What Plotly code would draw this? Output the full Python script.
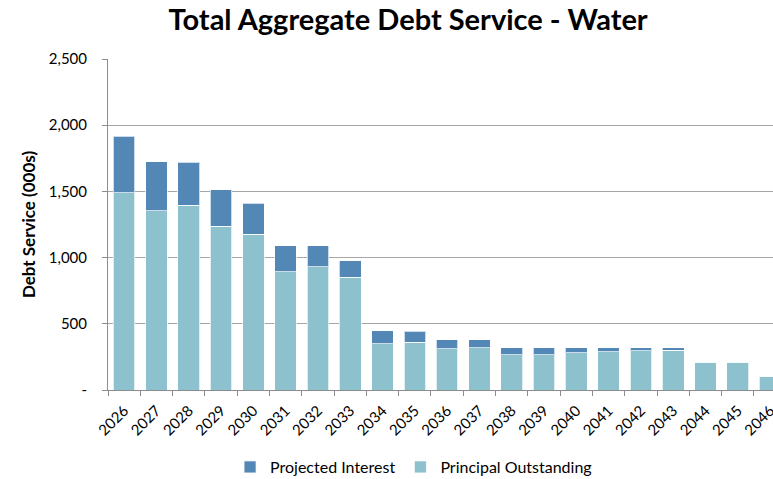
import plotly.graph_objects as go

years = [str(y) for y in range(2026, 2047)]
principal = [1490, 1355, 1395, 1235, 1178, 895, 930, 852, 350, 360, 312, 318, 268, 268, 280, 290, 298, 300, 208, 210, 104]
total = [1915, 1725, 1720, 1512, 1412, 1088, 1088, 978, 446, 444, 381, 381, 321, 318, 321, 321, 321, 318, 215, 215, 107]
interest = [t - p for t, p in zip(total, principal)]

y_tickvals = [0, 500, 1000, 1500, 2000, 2500]
y_ticktext = ["-", "500", "1,000", "1,500", "2,000", "2,500"]

FONT = "Lato"

fig = go.Figure()
fig.add_trace(go.Bar(x=years, y=principal, name="Principal Outstanding",
                     marker=dict(color="#8CC1CD", line=dict(color="rgba(255,255,255,0.7)", width=1))))
fig.add_trace(go.Bar(x=years, y=interest, name="Projected Interest",
                     marker=dict(color="#5388B6", line=dict(color="rgba(255,255,255,0.7)", width=1))))

fig.update_layout(
    width=773, height=479,
    barmode="stack", bargap=0.33,
    paper_bgcolor="white", plot_bgcolor="white",
    margin=dict(l=108, r=0, t=59, b=89, autoexpand=False),
    font=dict(family=FONT, color="black", size=15),
    title=dict(text="<b>Total Aggregate Debt Service - Water</b>", x=0.528, xanchor="center",
               y=0.979, yanchor="top", font=dict(size=29, family=FONT)),
    legend=dict(orientation="h", xref="container", yref="container",
                x=0.535, xanchor="center", y=0.025, yanchor="middle",
                traceorder="reversed", font=dict(size=16)),
    showlegend=True,
)
fig.update_xaxes(range=[-0.5, 20.09], showline=True, linecolor="#8c8c8c", linewidth=1,
                 ticks="outside", tickson="boundaries", ticklen=5, tickcolor="#8c8c8c",
                 tickangle=-45, tickfont=dict(size=15), showgrid=False, automargin=False,
                 ticklabelstandoff=5)
fig.update_yaxes(range=[0, 2500], tickvals=y_tickvals, ticktext=y_ticktext,
                 showline=True, linecolor="#8c8c8c", linewidth=1,
                 ticks="outside", ticklen=5, tickcolor="#8c8c8c",
                 showgrid=True, gridcolor="#a6a6a6", gridwidth=1, zeroline=False,
                 tickfont=dict(size=15), automargin=False, ticklabelstandoff=12,
                 title=dict(text="<b>Debt Service (000s)</b>", font=dict(size=17), standoff=8))

fig.write_html("out.html", config={"displayModeBar": False},
               post_script="document.body.style.margin='0';document.body.style.overflow='hidden';")
